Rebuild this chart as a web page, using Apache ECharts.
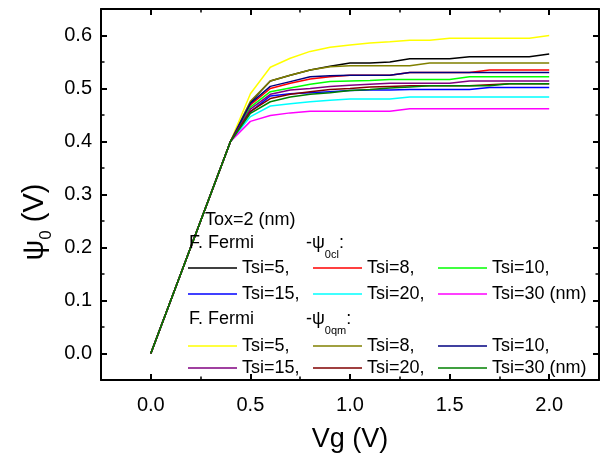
<!DOCTYPE html>
<html>
<head>
<meta charset="utf-8">
<script src="https://cdn.jsdelivr.net/npm/echarts@6/dist/echarts.min.js"></script>
<style>
html, body { margin: 0; padding: 0; background: #fff; }
#chart { width: 610px; height: 460px; }
</style>
</head>
<body>
<div id="chart"></div>
<script>
// gate voltage (V)
var vg = [0.0, 0.1, 0.2, 0.3, 0.4, 0.5, 0.6, 0.7, 0.8, 0.9, 1.0,
          1.1, 1.2, 1.3, 1.4, 1.5, 1.6, 1.7, 1.8, 1.9, 2.0];

// classical surface potential psi_0cl
var clTsi5  = [0, 0.1, 0.2, 0.3, 0.4, 0.474, 0.514, 0.525, 0.535, 0.542, 0.548, 0.548, 0.550, 0.556, 0.556, 0.556, 0.560, 0.560, 0.560, 0.560, 0.565];
var clTsi8  = [0, 0.1, 0.2, 0.3, 0.4, 0.469, 0.500, 0.510, 0.518, 0.522, 0.525, 0.525, 0.525, 0.530, 0.530, 0.530, 0.530, 0.535, 0.535, 0.535, 0.535];
var clTsi10 = [0, 0.1, 0.2, 0.3, 0.4, 0.465, 0.494, 0.501, 0.508, 0.513, 0.514, 0.515, 0.517, 0.517, 0.517, 0.517, 0.522, 0.522, 0.522, 0.522, 0.522];
var clTsi15 = [0, 0.1, 0.2, 0.3, 0.4, 0.456, 0.486, 0.490, 0.492, 0.494, 0.496, 0.497, 0.497, 0.498, 0.498, 0.498, 0.498, 0.502, 0.502, 0.502, 0.502];
var clTsi20 = [0, 0.1, 0.2, 0.3, 0.4, 0.447, 0.467, 0.471, 0.475, 0.478, 0.480, 0.480, 0.480, 0.484, 0.484, 0.484, 0.484, 0.484, 0.484, 0.484, 0.484];
var clTsi30 = [0, 0.1, 0.2, 0.3, 0.4, 0.438, 0.449, 0.454, 0.457, 0.457, 0.457, 0.457, 0.457, 0.462, 0.462, 0.462, 0.462, 0.462, 0.462, 0.462, 0.462];

// quantum surface potential psi_0qm
var qmTsi5  = [0, 0.1, 0.2, 0.3, 0.4, 0.490, 0.540, 0.557, 0.570, 0.578, 0.582, 0.586, 0.588, 0.591, 0.591, 0.595, 0.595, 0.595, 0.595, 0.595, 0.600];
var qmTsi8  = [0, 0.1, 0.2, 0.3, 0.4, 0.476, 0.514, 0.525, 0.535, 0.541, 0.543, 0.543, 0.543, 0.543, 0.548, 0.548, 0.548, 0.548, 0.548, 0.548, 0.548];
var qmTsi10 = [0, 0.1, 0.2, 0.3, 0.4, 0.472, 0.504, 0.513, 0.522, 0.524, 0.525, 0.525, 0.525, 0.530, 0.530, 0.530, 0.530, 0.530, 0.530, 0.530, 0.530];
var qmTsi15 = [0, 0.1, 0.2, 0.3, 0.4, 0.461, 0.489, 0.497, 0.500, 0.504, 0.506, 0.508, 0.510, 0.510, 0.510, 0.510, 0.514, 0.514, 0.514, 0.514, 0.514];
var qmTsi20 = [0, 0.1, 0.2, 0.3, 0.4, 0.457, 0.481, 0.489, 0.494, 0.498, 0.500, 0.503, 0.504, 0.505, 0.505, 0.505, 0.505, 0.507, 0.509, 0.509, 0.509];
var qmTsi30 = [0, 0.1, 0.2, 0.3, 0.4, 0.453, 0.475, 0.484, 0.489, 0.492, 0.496, 0.498, 0.501, 0.503, 0.505, 0.505, 0.505, 0.505, 0.509, 0.509, 0.509];

var tsiNames = ['Tsi=5,', 'Tsi=8,', 'Tsi=10,', 'Tsi=15,', 'Tsi=20,', 'Tsi=30 (nm)'];
var clColors = ['#000000', '#ff0000', '#00ff00', '#0000ff', '#00ffff', '#ff00ff'];
var qmColors = ['#ffff00', '#808000', '#000080', '#800080', '#800000', '#008000'];

var xMajor = [0, 0.5, 1.0, 1.5, 2.0];
var xMinor = [0.25, 0.75, 1.25, 1.75];
var yMajor = [0, 0.1, 0.2, 0.3, 0.4, 0.5, 0.6];
var yMinor = [0.05, 0.15, 0.25, 0.35, 0.45, 0.55];

var FONT = '"Liberation Sans", Arial, sans-serif';

var chart = echarts.init(document.getElementById('chart'));

function makeSeries(prefix, values, colors) {
    return values.map(function (vals, k) {
        return {
            name: prefix + '|' + tsiNames[k],
            type: 'line',
            symbol: 'none',
            animation: false,
            lineStyle: { width: 1.5, color: colors[k] },
            itemStyle: { color: colors[k] },
            data: vg.map(function (x, i) { return [x, vals[i]]; })
        };
    });
}

var series = makeSeries('cl', [clTsi5, clTsi8, clTsi10, clTsi15, clTsi20, clTsi30], clColors)
    .concat(makeSeries('qm', [qmTsi5, qmTsi8, qmTsi10, qmTsi15, qmTsi20, qmTsi30], qmColors));

// legend rows: a thin rect icon stands in for the line sample
function legendRow(top, names) {
    return {
        top: top,
        left: 188,
        padding: 0,
        itemGap: 5,
        itemWidth: 49,
        itemHeight: 1.3,
        icon: 'rect',
        selectedMode: false,
        data: names,
        formatter: function (n) { return n.split('|')[1]; },
        textStyle: { fontSize: 18, fontFamily: FONT, color: '#000', width: 66, lineHeight: 20 }
    };
}

function tickAxis(dim, pos, ticks, len, width, labels) {
    var ax = {
        type: 'value',
        position: pos,
        min: dim === 'x' ? -0.25 : -0.05,
        max: dim === 'x' ? 2.25 : 0.65,
        axisLine: { show: labels, onZero: false, lineStyle: { color: '#000', width: 2 } },
        axisTick: { show: true, inside: true, length: len, customValues: ticks,
                    lineStyle: { color: '#000', width: width } },
        axisLabel: { show: false },
        splitLine: { show: false }
    };
    if (labels) {
        ax.axisLabel = {
            show: pos === 'bottom' || pos === 'left',
            customValues: ticks,
            margin: dim === 'x' ? 15 : 9,
            fontSize: 20,
            fontFamily: FONT,
            color: '#000',
            formatter: function (v) { return v.toFixed(1); }
        };
    }
    return ax;
}

var xAxes = [
    tickAxis('x', 'bottom', xMajor, 6, 2, true),
    tickAxis('x', 'bottom', xMinor, 3.5, 1.5, false),
    tickAxis('x', 'top', xMajor, 6, 2, true),
    tickAxis('x', 'top', xMinor, 3.5, 1.5, false)
];
xAxes[0].name = 'Vg (V)';
xAxes[0].nameLocation = 'middle';
xAxes[0].nameGap = 46;
xAxes[0].nameTextStyle = { fontSize: 27, fontFamily: FONT, color: '#000' };

var yAxes = [
    tickAxis('y', 'left', yMajor, 6, 2, true),
    tickAxis('y', 'left', yMinor, 3.5, 1.5, false),
    tickAxis('y', 'right', yMajor, 6, 2, true),
    tickAxis('y', 'right', yMinor, 3.5, 1.5, false)
];

function label(x, y, text, size) {
    return {
        type: 'text',
        x: x,
        y: y,
        z: 100,
        style: {
            text: text,
            fontSize: size,
            fontFamily: FONT,
            fill: '#000',
            verticalAlign: 'middle',
            rich: {
                m: { fontSize: size, fontFamily: FONT },
                s: { fontSize: 11, fontFamily: FONT, padding: [24, 0, 0, 0] }
            }
        }
    };
}

var option = {
    animation: false,
    backgroundColor: '#fff',
    grid: { left: 101, right: 11, top: 9, bottom: 80, containLabel: false },
    xAxis: xAxes,
    yAxis: yAxes,
    legend: [
        legendRow(258, series.slice(0, 3).map(function (s) { return s.name; })),
        legendRow(284, series.slice(3, 6).map(function (s) { return s.name; })),
        legendRow(336, series.slice(6, 9).map(function (s) { return s.name; })),
        legendRow(358, series.slice(9, 12).map(function (s) { return s.name; }))
    ],
    graphic: [
        label(205, 220, 'Tox=2 (nm)', 18),
        label(189, 243, 'F. Fermi', 18),
        label(306, 243, '{m|-ψ}{s|0cl}{m|:}', 18),
        label(189, 319, 'F. Fermi', 18),
        label(306, 319, '{m|-ψ}{s|0qm}{m|:}', 18),
        {
            type: 'text',
            x: 35,
            y: 222,
            rotation: Math.PI / 2,
            z: 100,
            style: {
                text: '{m|ψ}{s|0}{m| (V)}',
                align: 'center',
                verticalAlign: 'middle',
                fill: '#000',
                rich: {
                    m: { fontSize: 29, fontFamily: FONT },
                    s: { fontSize: 17, fontFamily: FONT, padding: [22, 0, 0, 0] }
                }
            }
        }
    ],
    series: series
};

chart.setOption(option);
</script>
</body>
</html>
